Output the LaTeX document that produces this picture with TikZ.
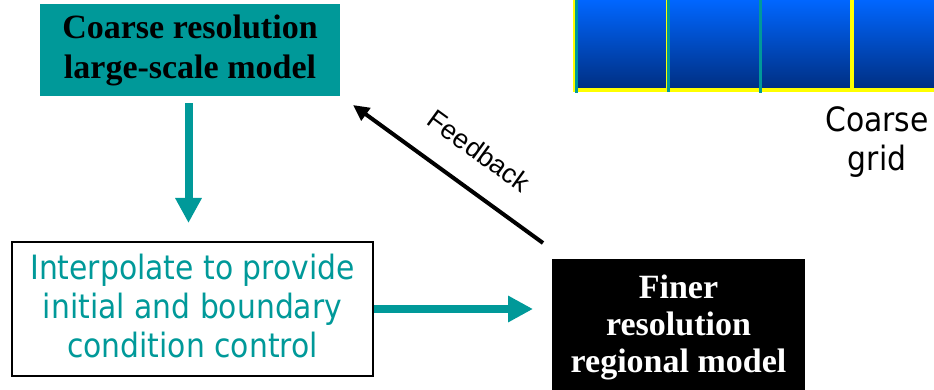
\documentclass[tikz,border=0pt]{standalone}
\usepackage{fontspec}
\setmainfont{Liberation Serif}
\newfontfamily\tahomaf{DejaVu Sans}[FakeStretch=0.89]
\newfontfamily\arialf{Liberation Sans}
\usetikzlibrary{arrows.meta}
\definecolor{tealc}{RGB}{0,153,153}
\definecolor{gridtop}{RGB}{0,102,255}
\definecolor{gridmid}{RGB}{0,86,216}
\definecolor{gridbot}{RGB}{0,46,128}
\definecolor{gridyellow}{RGB}{255,255,0}
\begin{document}
\begin{tikzpicture}[x=1pt,y=-1pt,
  serifbold/.style={font=\fontsize{34}{40}\selectfont\bfseries, align=center, inner sep=0pt},
  sanstext/.style={font=\tahomaf\fontsize{33.5}{39}\selectfont, align=center},
  tealarrow/.style={draw=tealc, line width=8pt, -{Triangle[length=25pt,width=25pt]}},
  fbarrow/.style={draw=black, line width=4pt, -{Triangle[length=16pt,width=15pt]}}
]
\useasboundingbox (0,0) rectangle (934,390);

% coarse grid (bottom row, cut by top edge)
\shade[top color=gridtop, middle color=gridmid, bottom color=gridbot] (575,0) rectangle (934,90);
\draw[gridyellow, line width=4pt] (573,90) -- (934,90);
\draw[gridyellow, line width=2pt] (574,0) -- (574,92);
\draw[gridyellow, line width=1pt] (666.5,0) -- (666.5,91);
\draw[tealc, line width=3pt] (576.5,0) -- (576.5,93);
\draw[tealc, line width=3pt] (668.5,0) -- (668.5,92);
\draw[tealc, line width=3pt] (760,0) -- (760,93);
\draw[gridyellow, line width=3.5pt] (852,0) -- (852,90);
\node[sanstext, inner sep=0pt, text=black] (gridlabel) at (877,142) {Coarse\\grid};

% boxes
\node[serifbold, fill=tealc, minimum width=300pt, minimum height=92pt, text=black] (coarse) at (190,50) {Coarse resolution\\large-scale model};
\node[sanstext, draw=black, line width=2pt, minimum width=361pt, minimum height=134pt, inner sep=0pt, text=tealc] (interp) at (192.5,309) {Interpolate to provide\\initial and boundary\\condition control\vphantom{g}};
\node[fill=black, minimum width=253pt, minimum height=140pt, inner sep=0pt, anchor=north west] (finebox) at (552,259) {};
\node[serifbold, font=\fontsize{34}{37}\selectfont\bfseries, text=white] (fine) at (678.5,327) {Finer\\resolution\\regional model};

% connectors
\coordinate (ftip) at (533,309);
\coordinate (fbtail) at (543,243);
\coordinate (fbhead) at (353,105);
\draw[tealarrow] ([shift={(-1.5pt,-7pt)}]coarse.south) -- ([shift={(-4pt,18pt)}]interp.north);
\draw[tealarrow] (interp.east) -- (ftip);
\draw[fbarrow] (fbtail) -- (fbhead);
\node[font=\arialf\fontsize{27}{30}\selectfont, rotate=-36, inner sep=0pt] (fblabel) at (479,151) {Feedback};
\end{tikzpicture}
\end{document}
